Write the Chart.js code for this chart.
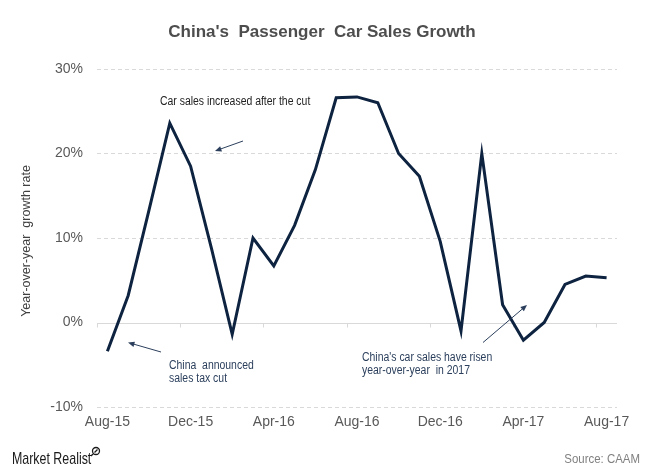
<!DOCTYPE html>
<html lang="en">
  <head>
    <meta charset="UTF-8" />
    <title>China's Passenger Car Sales Growth</title>
    <script src="https://cdn.jsdelivr.net/npm/chart.js"></script>
    <style>
      body {
        margin: 0;
        background-color: #fff;
      }
      #chart-container {
        width: 660px;
        height: 471px;
      }
    </style>
  </head>
  <body>
    <div id="chart-container">
      <canvas id="salesChart"></canvas>
    </div>
    <script>
      // monthly categories Aug-15 .. Aug-17
      const months = [
        "Aug-15", "Sep-15", "Oct-15", "Nov-15", "Dec-15", "Jan-16", "Feb-16",
        "Mar-16", "Apr-16", "May-16", "Jun-16", "Jul-16", "Aug-16", "Sep-16",
        "Oct-16", "Nov-16", "Dec-16", "Jan-17", "Feb-17", "Mar-17", "Apr-17",
        "May-17", "Jun-17", "Jul-17", "Aug-17",
      ];
      // year-over-year growth (%)
      const growth = [
        -3.4, 3.2, 13.3, 23.6, 18.5, 8.8, -1.4, 10.0, 6.7, 11.5, 18.1, 26.6,
        26.7, 26.0, 20.0, 17.3, 9.6, -1.0, 20.0, 2.1, -2.1, 0.0, 4.5, 5.5, 5.3,
      ];
      const yTicks = [-10, 0, 10, 20, 30];
      const labelEvery = 4;

      const notes = [
        { lines: ["Car sales increased after the cut"], x: 160, y: 102, from: [243, 141], to: [215, 151] },
        { lines: ["China  announced", "sales tax cut"], x: 169, y: 366, from: [161, 352], to: [128, 342.5] },
        { lines: ["China's car sales have risen", "year-over-year  in 2017"], x: 362, y: 358, from: [483, 342.5], to: [527, 305] },
      ];

      const font = "'Liberation Sans', Arial, sans-serif";

      // text squeezed horizontally, the original uses a narrow face
      function narrowText(ctx, text, x, y, sx) {
        ctx.save();
        ctx.translate(x, y);
        ctx.scale(sx, 1);
        ctx.fillText(text, 0, 0);
        ctx.restore();
      }

      function arrow(ctx, from, to) {
        const ang = Math.atan2(to[1] - from[1], to[0] - from[0]);
        ctx.strokeStyle = "#2b3f5c";
        ctx.fillStyle = "#2b3f5c";
        ctx.lineWidth = 1;
        ctx.beginPath();
        ctx.moveTo(from[0], from[1]);
        ctx.lineTo(to[0] - 4 * Math.cos(ang), to[1] - 4 * Math.sin(ang));
        ctx.stroke();
        ctx.beginPath();
        ctx.moveTo(to[0], to[1]);
        ctx.lineTo(to[0] - 7 * Math.cos(ang - 0.4), to[1] - 7 * Math.sin(ang - 0.4));
        ctx.lineTo(to[0] - 7 * Math.cos(ang + 0.4), to[1] - 7 * Math.sin(ang + 0.4));
        ctx.closePath();
        ctx.fill();
      }

      const decorations = {
        id: "decorations",
        beforeDatasetsDraw(chart) {
          const { ctx, chartArea, scales } = chart;
          const y0 = Math.round(scales.y.getPixelForValue(0)) + 0.5;
          ctx.save();
          ctx.strokeStyle = "#d9d9d9";
          ctx.lineWidth = 1;
          ctx.beginPath();
          ctx.moveTo(chartArea.left, y0);
          ctx.lineTo(chartArea.right, y0);
          for (let i = 0; i < months.length; i += labelEvery) {
            const x = Math.round(scales.x.getPixelForValue(i - 0.5)) + 0.5;
            ctx.moveTo(x, y0);
            ctx.lineTo(x, y0 + 4);
          }
          ctx.stroke();
          ctx.restore();
        },
        afterDraw(chart) {
          const { ctx } = chart;
          ctx.save();
          // title
          ctx.fillStyle = "#4d4d4d";
          ctx.font = "bold 17px " + font;
          ctx.textAlign = "center";
          ctx.textBaseline = "middle";
          ctx.fillText("China's  Passenger  Car Sales Growth", 322, 32);

          // y axis title
          ctx.save();
          ctx.translate(27, 241);
          ctx.rotate(-Math.PI / 2);
          ctx.fillStyle = "#404040";
          ctx.font = "12.5px " + font;
          ctx.fillText("Year-over-year  growth rate", 0, 0);
          ctx.restore();

          // annotations
          ctx.textAlign = "left";
          ctx.fillStyle = "#222";
          ctx.font = "12px " + font;
          notes.forEach((n) => {
            n.lines.forEach((t, i) => narrowText(ctx, t, n.x, n.y + i * 12.5, 0.87));
            arrow(ctx, n.from, n.to);
          });

          // footer
          ctx.fillStyle = "#1a1a1a";
          ctx.font = "17px " + font;
          narrowText(ctx, "Market Realist", 12, 459, 0.73);
          ctx.strokeStyle = "#1a1a1a";
          ctx.lineWidth = 1.3;
          ctx.beginPath();
          ctx.arc(96, 451, 3.5, 0, Math.PI * 2);
          ctx.moveTo(93.5, 453.5);
          ctx.lineTo(91, 456);
          ctx.moveTo(94.5, 452.5);
          ctx.lineTo(97.5, 449.5);
          ctx.stroke();
          ctx.fillStyle = "#808080";
          ctx.font = "13px " + font;
          ctx.textAlign = "right";
          narrowText(ctx, "Source: CAAM", 640, 459, 0.88);
          ctx.restore();
        },
      };

      const ctx = document.getElementById("salesChart").getContext("2d");
      const salesChart = new Chart(ctx, {
        type: "line",
        data: {
          labels: months,
          datasets: [
            {
              label: "Year-over-year growth rate",
              data: growth,
              borderColor: "#0d2340",
              borderWidth: 3,
              pointRadius: 0,
              tension: 0,
              fill: false,
            },
          ],
        },
        options: {
          responsive: true,
          maintainAspectRatio: false,
          animation: false,
          layout: { padding: { top: 69, right: 43, bottom: 34, left: 0 } },
          plugins: {
            legend: { display: false },
            tooltip: { enabled: false },
          },
          scales: {
            x: {
              offset: true,
              grid: { display: false, drawTicks: false },
              border: { display: false },
              ticks: {
                autoSkip: false,
                maxRotation: 0,
                padding: 7,
                color: "#595959",
                font: { family: font, size: 14 },
                callback: (v, i) => (i % labelEvery === 0 ? months[i] : ""),
              },
              afterFit: (s) => (s.height = 30),
            },
            y: {
              min: yTicks[0],
              max: yTicks[yTicks.length - 1],
              afterBuildTicks: (s) => (s.ticks = yTicks.map((v) => ({ value: v }))),
              grid: {
                drawTicks: false,
                color: (c) => (c.tick && c.tick.value === 0 ? "rgba(0,0,0,0)" : "#d9d9d9"),
              },
              border: { display: false, dash: [4, 3] },
              ticks: {
                padding: 14,
                color: "#595959",
                font: { family: font, size: 14 },
                callback: (v) => v + "%",
              },
              afterFit: (s) => (s.width = 97),
            },
          },
        },
        plugins: [decorations],
      });
    </script>
  </body>
</html>
